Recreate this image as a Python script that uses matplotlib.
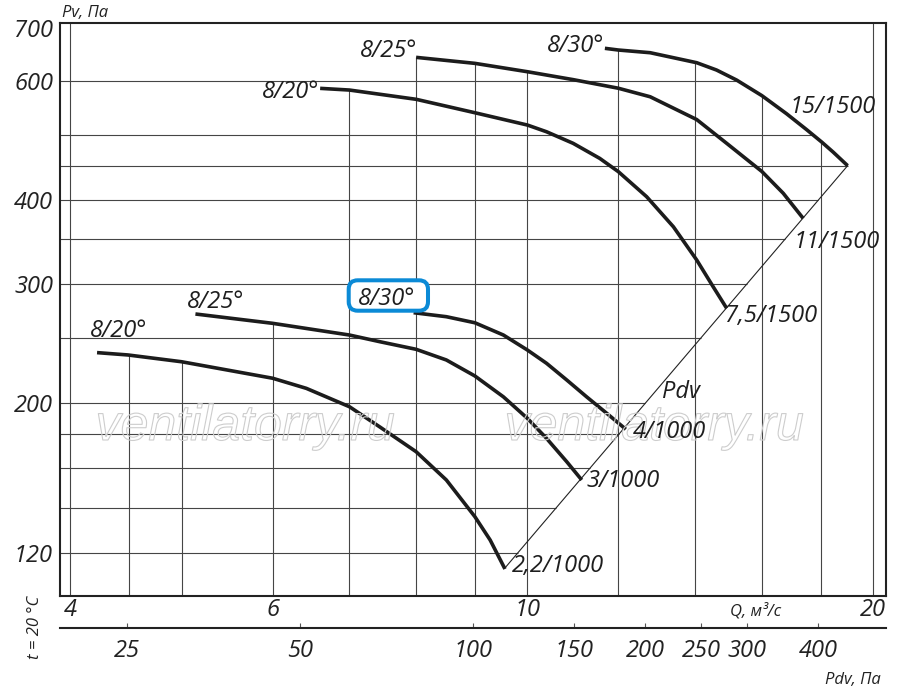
import matplotlib
matplotlib.use('Agg')
import matplotlib.pyplot as plt
import numpy as np
from matplotlib.ticker import NullLocator
from matplotlib.patches import FancyBboxPatch
from matplotlib.transforms import IdentityTransform
import matplotlib.patheffects as pe

plt.rcParams['font.family'] = ['Open Sans', 'DejaVu Sans']
plt.rcParams['font.style'] = 'italic'

# ---------------- data ----------------
# fan curves: Q (m3/s) vs Pv (Pa)
q_22_1000 = [4.22, 4.49, 5.0, 6.0, 6.42, 7.0, 7.44, 8.0, 8.5, 9.0, 9.28, 9.56]
p_22_1000 = [237.6, 235.7, 230.3, 217.7, 210.3, 197.5, 184.3, 169.4, 153.8, 135.7, 125.3, 113.5]

q_3_1000 = [5.14, 6.0, 7.0, 7.44, 8.0, 8.5, 9.0, 9.53, 10.0, 10.39, 10.82, 11.15]
p_3_1000 = [271.1, 262.6, 252.3, 246.6, 240.3, 231.7, 219.4, 204.3, 189.8, 177.3, 163.7, 153.8]

q_4_1000 = [7.96, 8.5, 9.0, 9.53, 10.0, 10.39, 10.82, 11.26, 11.72, 12.18]
p_4_1000 = [272.3, 268.6, 263.1, 252.3, 239.7, 229.1, 216.4, 204.3, 193.2, 182.9]

q_75_1500 = [6.6, 7.0, 8.0, 9.0, 10.0, 10.39, 10.96, 11.56, 12.0, 12.7, 13.4, 14.04, 14.51, 14.91]
p_75_1500 = [585.8, 582.4, 564.3, 539.0, 516.8, 505.1, 485.5, 461.2, 440.7, 404.6, 365.1, 326.0, 297.6, 276.4]

q_11_1500 = [8.0, 9.0, 10.0, 10.96, 12.0, 12.79, 14.04, 14.91, 16.0, 16.7, 17.38]
p_11_1500 = [651.2, 638.0, 620.0, 603.5, 586.0, 569.2, 526.6, 485.5, 441.0, 409.4, 375.8]

q_15_1500 = [11.68, 12.0, 12.79, 14.04, 14.61, 15.21, 16.0, 16.81, 17.5, 18.04, 18.46, 19.0]
p_15_1500 = [671.6, 667.7, 661.6, 639.4, 623.6, 602.6, 571.4, 537.2, 508.8, 487.6, 471.1, 449.9]

# dynamic-pressure line (Pdv) end points
pdv_line_q = [9.56, 19.0]
pdv_line_p = [113.9, 449.8]
pdv_coef = 1.246           # Pdv = pdv_coef * Q^2

# axes ticks / grid
q_ticks = [4, 6, 10, 20]
q_tick_labels = ['4', '6', '10', '20']
p_ticks = [120, 200, 300, 400, 600]
p_tick_labels = ['120', '200', '300', '400', '600']
p_top_label = '700'
pdv_ticks = [25, 50, 100, 150, 200, 250, 300, 400]
pdv_tick_labels = ['25', '50', '100', '150', '200', '250', '300', '400']
grid_q = [4, 4.5, 5, 6, 7, 8, 9, 10, 12, 14, 16, 18, 20]
grid_p = [120, 140, 160, 180, 200, 250, 300, 350, 400, 450, 500, 600]

curves = [
    (q_22_1000, p_22_1000),
    (q_3_1000, p_3_1000),
    (q_4_1000, p_4_1000),
    (q_75_1500, p_75_1500),
    (q_11_1500, p_11_1500),
    (q_15_1500, p_15_1500),
]

# ---------------- figure ----------------
W, H = 900, 690
fig = plt.figure(figsize=(W / 100, H / 100), dpi=100)
fig.patch.set_facecolor('white')


def fx(x):
    return x / W


def fy(y):
    return 1 - y / H


ax_l, ax_r, ax_t, ax_b = 60, 886, 22.7, 595.7
ax = fig.add_axes([fx(ax_l), fy(ax_b), (ax_r - ax_l) / W, (ax_b - ax_t) / H])
ax.set_xscale('log')
ax.set_yscale('log')
xlim = (3.918, 20.52)
ylim = (103.6, 733)
ax.set_xlim(*xlim)
ax.set_ylim(*ylim)

grid_color = '#454545'
grid_lw = 0.8


def p_on_curve(q, qs, ps):
    if min(qs) <= q <= max(qs):
        order = np.argsort(qs)
        return 10 ** np.interp(np.log10(q), np.log10(np.asarray(qs)[order]),
                               np.log10(np.asarray(ps)[order]))
    return None


def q_on_curve(p, qs, ps):
    if min(ps) <= p <= max(ps):
        order = np.argsort(ps)
        return 10 ** np.interp(np.log10(p), np.log10(np.asarray(ps)[order]),
                               np.log10(np.asarray(qs)[order]))
    return None


# vertical grid lines, clipped at the upper envelope of the curves
for gq in grid_q:
    vals = [v for v in (p_on_curve(gq, qs, ps) for qs, ps in curves) if v is not None]
    top = max(vals) if vals else ylim[1]
    ax.vlines(gq, ylim[0], top, color=grid_color, lw=grid_lw, zorder=1)

# horizontal grid lines, clipped at the right envelope
all_curves = curves + [(pdv_line_q, pdv_line_p)]
for gp in grid_p:
    vals = [v for v in (q_on_curve(gp, qs, ps) for qs, ps in all_curves) if v is not None]
    right = max(vals) if vals else xlim[1]
    ax.hlines(gp, xlim[0], right, color=grid_color, lw=grid_lw, zorder=1)

# Pdv line
ax.plot(pdv_line_q, pdv_line_p, color='#222222', lw=0.8, zorder=2)

# fan curves
for qs, ps in curves:
    ax.plot(qs, ps, color='#1c1c1c', lw=2.6, solid_capstyle='butt',
            solid_joinstyle='round', zorder=3)

# spines & ticks
for s in ax.spines.values():
    s.set_linewidth(1.5)
    s.set_color('#222222')
ax.set_xticks(q_ticks)
ax.set_xticklabels(q_tick_labels)
ax.set_yticks(p_ticks)
ax.set_yticklabels(p_tick_labels)
ax.xaxis.set_minor_locator(NullLocator())
ax.yaxis.set_minor_locator(NullLocator())
ax.tick_params(axis='both', length=0, labelsize=17, labelcolor='#222222')
ax.tick_params(axis='x', pad=2)
ax.tick_params(axis='y', pad=5)
fig.text(fx(53), fy(28), p_top_label, ha='right', va='center_baseline',
         fontsize=17, color='#222222')

# secondary Pdv axis below
sec = ax.secondary_xaxis(-32.6 / (ax_b - ax_t),
                         functions=(lambda q: pdv_coef * np.asarray(q) ** 2,
                                    lambda p: np.sqrt(np.abs(np.asarray(p)) / pdv_coef)))
sec.set_xticks(pdv_ticks)
sec.set_xticklabels(pdv_tick_labels)
sec.xaxis.set_minor_locator(NullLocator())
sec.tick_params(direction='in', length=3.6, width=0.8, color='#555555',
                pad=8, labelsize=17, labelcolor='#222222')
sec.spines['bottom'].set_linewidth(1.5)
sec.spines['bottom'].set_color('#222222')

# axis captions
fig.text(fx(61.7), fy(17), 'Pv, Па', ha='left', va='baseline', fontsize=12, color='#222222')
fig.text(fx(730), fy(615), 'Q, м³/с', ha='left', va='baseline', fontsize=12, color='#222222')
fig.text(fx(825), fy(684), 'Pdv, Па', ha='left', va='baseline', fontsize=12, color='#222222')
fig.text(fx(35), fy(627), 't = 20 °C', ha='center', va='center', rotation=90,
         fontsize=12, color='#222222')

# watermark (outlined text)
for cx in (245, 654):
    fig.text(fx(cx), fy(440), 'ventilatorry.ru', ha='center', va='baseline',
             fontsize=36, family=['Liberation Sans', 'DejaVu Sans'], style='italic',
             color=(1, 1, 1, 0), zorder=2,
             path_effects=[pe.Stroke(linewidth=0.8, foreground='#cdcdcd')])

# highlighted box
box = FancyBboxPatch((348.7, H - 310.7), 79.3, 30.4,
                     boxstyle='round,pad=0,rounding_size=9',
                     transform=IdentityTransform(), facecolor='white',
                     edgecolor='#0b8ad6', linewidth=2.9, zorder=4)
fig.add_artist(box)

# curve labels (left x, baseline y in pixels)
labels = [
    ('8/20°', 90, 337),
    ('8/25°', 186.7, 308),
    ('8/30°', 358.3, 305),
    ('8/20°', 261.7, 98.3),
    ('8/25°', 360, 56.7),
    ('8/30°', 546.7, 51.7),
    ('15/1500', 790, 113.3),
    ('11/1500', 793.3, 248.3),
    ('7,5/1500', 725, 321.7),
    ('4/1000', 633.3, 437.5),
    ('3/1000', 586.7, 487),
    ('2,2/1000', 511.7, 571.7),
    ('Pdv', 661.7, 398.3),
]
for txt, x, y in labels:
    fig.text(fx(x), fy(y), txt, ha='left', va='baseline', fontsize=17,
             color='#1e1e1e', zorder=5)

fig.savefig('out.png', dpi=100, facecolor='white')
